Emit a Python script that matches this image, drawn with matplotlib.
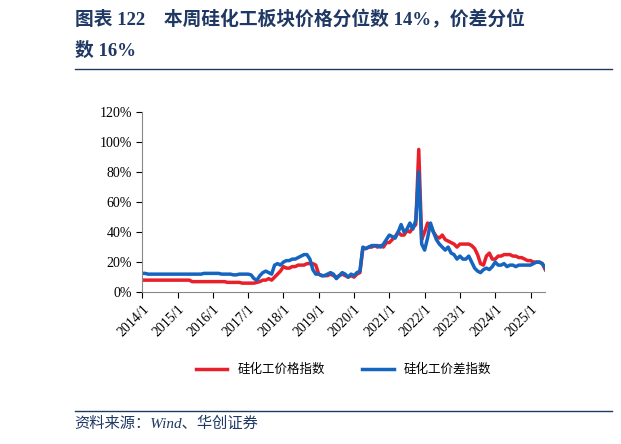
import matplotlib
matplotlib.use("Agg")
import matplotlib.pyplot as plt
import numpy as np

plt.rcParams["font.family"] = ["Liberation Serif", "Noto Sans CJK SC"]

months = [f"{y}/{m}" for y in range(2014, 2026) for m in range(1, 13)][:138]
price_idx = [
 8,8,8,8,8,8,8,8,8,8,8,8,
 8,8,8,8,8,7,7,7,7,7,7,7,
 7,7,7,7,7,6.5,6.5,6.5,6.5,6.5,6,6,
 6,6,6,6.5,7,8,8,9,8,10,12,14,
 17,16,16,17,17,18,18,18,19,19,19,18,
 12,11,11,11,12,11,10,11,12,11,10,11,
 10,12,13,29,29,30,30,31,30,31,30,33,
 33,35,37,40,38,38,41,40,43,45,95,35,
 40,46,44,40,37,36,38,35,34,33,32,30,
 32,32,32,32,31,29,25,19,18,24,26,22,
 22,24,24,25,25,25,24,24,23,23,22,21,
 21,20,20,20,19,15]
spread_idx = [
 12.5,12.5,12,12,12,12,12,12,12,12,12,12,
 12,12,12,12,12,12,12,12,12,12.5,12.5,12.5,
 12.5,12.5,12.5,12,12,12,12,11.5,11.5,12,12,12,
 12,11.5,9,8,11,13,14,13,12,18,19,18,
 20,21,21,22,22,23,24,25,25,22,15,12,
 12,11,11,12,13,12,9,11,13,12,10,12,
 11,13,14,30,29,30,31,31,31,30,32,35,
 38,37,36,40,45,40,42,46,42,48,80,32,
 28,36,46,40,35,32,30,28,30,26,25,22,
 24,22,22,24,20,16,14,13,15,16,15,17,
 20,18,18,19,17,18,18,17,18,18,18,18,
 18,19,20,20,19,16]
xticklabels = [f"{y}/1" for y in range(2014, 2026)]
yticks = [0,20,40,60,80,100,120]

fig = plt.figure(figsize=(6.21,4.44), dpi=100)
ax = fig.add_axes([0.229,0.342,0.649,0.406])
x = np.arange(len(months))
ax.plot(x, price_idx, color="#e8202a", lw=2.5, label="硅化工价格指数")
ax.plot(x, spread_idx, color="#1565c0", lw=2.5, label="硅化工价差指数")
ax.set_xlim(0, len(months)-1)
ax.set_ylim(0,120)
ax.set_yticks(yticks)
ax.set_yticklabels([f"{v}%" for v in yticks], fontsize=10)
ax.set_xticks(x[::12])
ax.set_xticklabels(xticklabels, rotation=45, ha="right", rotation_mode="anchor", fontsize=10)
for s in ["top","right"]:
    ax.spines[s].set_visible(False)
for s in ["left","bottom"]:
    ax.spines[s].set_color("#888888")
ax.tick_params(colors="black", length=4, direction="out")
ax.legend(loc="upper center", bbox_to_anchor=(0.5,-0.33), ncol=2, frameon=False,
          fontsize=9, prop={"family":"Noto Sans CJK SC","size":9}, handlelength=2.5, columnspacing=3)

fig.text(0.12, 0.955, "图表 122　本周硅化工板块价格分位数 14%，价差分位", fontsize=13.5,
         fontweight="bold", color="#1f3864", va="center")
fig.text(0.12, 0.885, "数 16%", fontsize=13.5, fontweight="bold", color="#1f3864", va="center")
fig.add_artist(plt.Line2D([0.12,0.985],[0.845,0.845], color="#1f3864", lw=1))
fig.add_artist(plt.Line2D([0.12,0.985],[0.075,0.075], color="#1f3864", lw=1))
fig.text(0.12, 0.045, "资料来源：Wind、华创证券", fontsize=11, style="italic", color="#1f3864", va="center")
fig.savefig("out.png", dpi=100)
